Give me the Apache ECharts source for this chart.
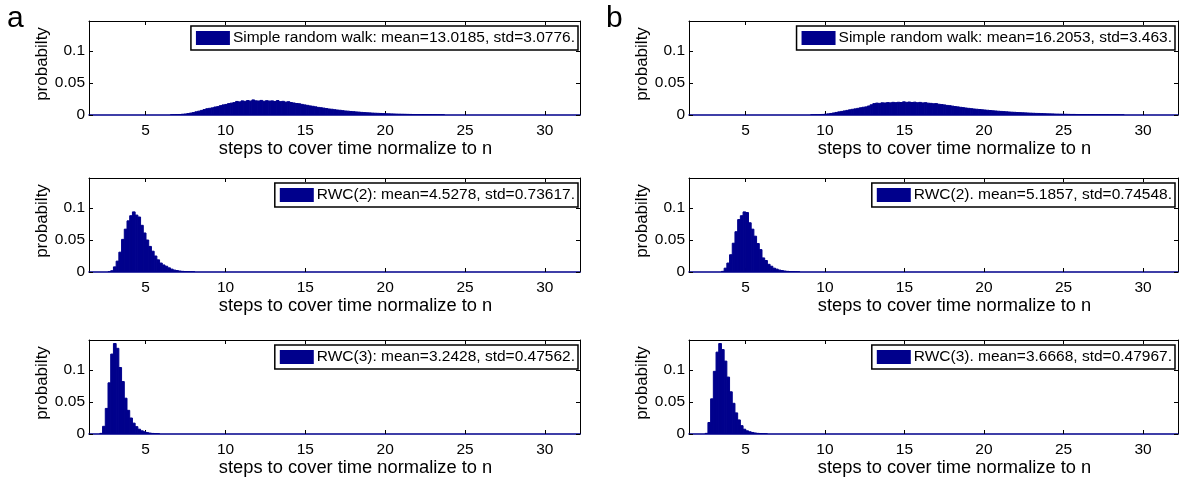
<!DOCTYPE html>
<html>
<head>
<meta charset="utf-8">
<script src="https://cdn.jsdelivr.net/npm/echarts@6/dist/echarts.min.js"></script>
<style>
  html, body { margin: 0; padding: 0; background: #ffffff; }
  #chart { width: 1183px; height: 482px; }
</style>
</head>
<body>
<div id="chart"></div>
<script>
// Histogram bins shared by every panel: left edge of bin 0 and bin width.
const binStart = 1.45;
const binWidth = 0.17;

// Axis ranges and tick values.
const xMin = 1.45;
const xMax = 32.2;
const yMax = 0.147;
const xTicks = [5, 10, 15, 20, 25, 30];
const yTicks = [0, 0.05, 0.1];

const xTitle = 'steps to cover time normalize to n';
const yTitle = 'probabilty';
const panelLetters = ['a', 'b'];

// Legend texts, column a then column b, top to bottom.
const seriesNames = [
  'Simple random walk: mean=13.0185, std=3.0776.',
  'RWC(2): mean=4.5278, std=0.73617.',
  'RWC(3): mean=3.2428, std=0.47562.',
  'Simple random walk: mean=16.2053, std=3.463.',
  'RWC(2). mean=5.1857, std=0.74548.',
  'RWC(3). mean=3.6668, std=0.47967.'
];

// Index of the first listed bin for each histogram.
const firstBins = [30, 7, 4, 45, 12, 6];

// Probabilities per bin, starting at the bin given in firstBins.
const srwA = [
  0.0002, 0.0003, 0.0005, 0.0008, 0.0012, 0.0016, 0.0022, 0.0030, 0.0038, 0.0050,
  0.0060, 0.0072, 0.0085, 0.0098, 0.0105, 0.0112, 0.0125, 0.0131, 0.0146, 0.0158,
  0.0165, 0.0178, 0.0186, 0.0194, 0.0212, 0.0205, 0.0221, 0.0214, 0.0226, 0.0218,
  0.0236, 0.0222, 0.0219, 0.0228, 0.0215, 0.0224, 0.0218, 0.0221, 0.0212, 0.0226,
  0.0209, 0.0214, 0.0202, 0.0208, 0.0195, 0.0188, 0.0180, 0.0176, 0.0166, 0.0158,
  0.0151, 0.0142, 0.0136, 0.0128, 0.0119, 0.0114, 0.0108, 0.0101, 0.0094, 0.0090,
  0.0083, 0.0078, 0.0074, 0.0068, 0.0063, 0.0060, 0.0055, 0.0052, 0.0048, 0.0045,
  0.0041, 0.0038, 0.0035, 0.0033, 0.0030, 0.0028, 0.0026, 0.0024, 0.0022, 0.0020,
  0.0019, 0.0017, 0.0016, 0.0014, 0.0013, 0.0012, 0.0011, 0.0010, 0.0009, 0.0008,
  0.0007, 0.0007, 0.0006, 0.0006, 0.0005, 0.0005, 0.0004, 0.0004, 0.0003, 0.0003,
  0.0002
];
const rwc2A = [
  0.0003, 0.0020, 0.0080, 0.0170, 0.0310, 0.0510, 0.0670, 0.0800, 0.0880, 0.0940,
  0.0890, 0.0860, 0.0730, 0.0610, 0.0500, 0.0400, 0.0325, 0.0250, 0.0190, 0.0140,
  0.0110, 0.0090, 0.0065, 0.0045, 0.0030, 0.0022, 0.0015, 0.0010, 0.0007, 0.0004,
  0.0003, 0.0002
];
const rwc3A = [
  0.0010, 0.0120, 0.0400, 0.0800, 0.1250, 0.1415, 0.1340, 0.1040, 0.0820, 0.0560,
  0.0370, 0.0250, 0.0170, 0.0115, 0.0075, 0.0050, 0.0035, 0.0022, 0.0014, 0.0009,
  0.0005, 0.0003
];
const srwB = [
  0.0002, 0.0003, 0.0004, 0.0006, 0.0009, 0.0013, 0.0018, 0.0024, 0.0032, 0.0040,
  0.0049, 0.0056, 0.0064, 0.0072, 0.0081, 0.0089, 0.0096, 0.0104, 0.0113, 0.0121,
  0.0127, 0.0141, 0.0160, 0.0178, 0.0186, 0.0182, 0.0191, 0.0188, 0.0194, 0.0190,
  0.0198, 0.0193, 0.0199, 0.0195, 0.0206, 0.0198, 0.0203, 0.0196, 0.0201, 0.0192,
  0.0197, 0.0189, 0.0193, 0.0185, 0.0182, 0.0176, 0.0178, 0.0168, 0.0163, 0.0158,
  0.0150, 0.0146, 0.0139, 0.0132, 0.0127, 0.0120, 0.0115, 0.0109, 0.0104, 0.0099,
  0.0094, 0.0090, 0.0086, 0.0082, 0.0078, 0.0074, 0.0070, 0.0066, 0.0063, 0.0059,
  0.0056, 0.0053, 0.0050, 0.0047, 0.0044, 0.0042, 0.0039, 0.0037, 0.0035, 0.0033,
  0.0031, 0.0029, 0.0027, 0.0025, 0.0024, 0.0022, 0.0021, 0.0019, 0.0018, 0.0017,
  0.0015, 0.0014, 0.0013, 0.0012, 0.0011, 0.0010, 0.0009, 0.0009, 0.0008, 0.0007,
  0.0007, 0.0006, 0.0006, 0.0005, 0.0005, 0.0004, 0.0004, 0.0003, 0.0003, 0.0003,
  0.0002, 0.0002, 0.0002, 0.0002, 0.0001, 0.0001
];
const rwc2B = [
  0.0010, 0.0060, 0.0140, 0.0270, 0.0450, 0.0630, 0.0820, 0.0880, 0.0940, 0.0930,
  0.0770, 0.0670, 0.0560, 0.0445, 0.0350, 0.0220, 0.0180, 0.0120, 0.0090, 0.0060,
  0.0045, 0.0030, 0.0022, 0.0015, 0.0010, 0.0007, 0.0005, 0.0003, 0.0002
];
const rwc3B = [
  0.0010, 0.0180, 0.0550, 0.0980, 0.1280, 0.1415, 0.1320, 0.1140, 0.0890, 0.0660,
  0.0480, 0.0330, 0.0220, 0.0130, 0.0075, 0.0050, 0.0035, 0.0024, 0.0016, 0.0010,
  0.0007, 0.0004, 0.0002
];
const histValues = [srwA, rwc2A, rwc3A, srwB, rwc2B, rwc3B];

// Layout of the 2 x 3 grid of axes boxes (pixels).
const colLeft = [89, 689];
const colWidth = [491, 489];
const rowTop = [21, 178, 340];
const boxHeight = 94;
const legendRight = [605, 8];

const barColor = '#00008c';
const fontFamily = '"Liberation Sans", Arial, Helvetica, sans-serif';

const chart = echarts.init(document.getElementById('chart'), null, { renderer: 'canvas' });

const grid = [], xAxis = [], yAxis = [], series = [], legend = [];

for (let col = 0; col < 2; col++) {
  for (let row = 0; row < 3; row++) {
    const i = col * 3 + row;
    grid.push({ left: colLeft[col], top: rowTop[row], width: colWidth[col], height: boxHeight });

    // bottom axis with labels and title
    xAxis.push({
      gridIndex: i, type: 'value', min: xMin, max: xMax, position: 'bottom',
      axisLine: { onZero: false, lineStyle: { color: barColor, width: 1.5 } },
      axisTick: { inside: true, length: 4, customValues: xTicks, lineStyle: { color: '#000', width: 1 } },
      axisLabel: { customValues: xTicks, margin: 8, color: '#000', fontSize: 15.5, fontFamily: fontFamily },
      splitLine: { show: false },
      name: xTitle, nameLocation: 'middle', nameGap: 23,
      nameTextStyle: { color: '#000', fontSize: 18.3, fontFamily: fontFamily, padding: [0, 0, 0, 42] }
    });
    // top edge of the box, ticks only
    xAxis.push({
      gridIndex: i, type: 'value', min: xMin, max: xMax, position: 'top',
      axisLine: { onZero: false, lineStyle: { color: '#000', width: 1 } },
      axisTick: { inside: true, length: 4, customValues: xTicks, lineStyle: { color: '#000', width: 1 } },
      axisLabel: { show: false }, splitLine: { show: false }
    });
    // left axis with labels and title
    yAxis.push({
      gridIndex: i, type: 'value', min: 0, max: yMax, position: 'left',
      axisLine: { onZero: false, lineStyle: { color: '#000', width: 1 } },
      axisTick: { inside: true, length: 4, customValues: yTicks, lineStyle: { color: '#000', width: 1 } },
      axisLabel: { customValues: yTicks, margin: 4, color: '#000', fontSize: 15.5, fontFamily: fontFamily },
      splitLine: { show: false },
      name: yTitle, nameLocation: 'middle', nameGap: 38, nameRotate: 90,
      nameTextStyle: { color: '#000', fontSize: 17, fontFamily: fontFamily, padding: [0, 0, 0, 8] }
    });
    // right edge of the box, ticks only
    yAxis.push({
      gridIndex: i, type: 'value', min: 0, max: yMax, position: 'right',
      axisLine: { onZero: false, lineStyle: { color: '#000', width: 1 } },
      axisTick: { inside: true, length: 4, customValues: yTicks, lineStyle: { color: '#000', width: 1 } },
      axisLabel: { show: false }, splitLine: { show: false }
    });

    const first = firstBins[i];
    const data = histValues[i].map((v, k) => [binStart + (first + k + 0.5) * binWidth, v]);

    series.push({
      type: 'custom', name: seriesNames[i],
      xAxisIndex: 2 * i, yAxisIndex: 2 * i,
      clip: true, z: 1,
      itemStyle: { color: barColor },
      data: data,
      renderItem: function (params, api) {
        const x = api.value(0);
        const y = api.value(1);
        const p0 = api.coord([x - binWidth / 2, y]);
        const p1 = api.coord([x + binWidth / 2, 0]);
        return {
          type: 'rect',
          shape: { x: p0[0], y: p0[1], width: p1[0] - p0[0], height: p1[1] - p0[1] },
          style: { fill: barColor, stroke: barColor, lineWidth: 1 }
        };
      }
    });

    legend.push({
      data: [seriesNames[i]],
      right: legendRight[col], top: rowTop[row] + 5,
      orient: 'horizontal',
      icon: 'rect', itemWidth: 34, itemHeight: 14,
      padding: [4, 3, 4, 5],
      borderColor: '#000', borderWidth: 1.5, borderRadius: 0,
      backgroundColor: '#fff',
      selectedMode: false,
      textStyle: { color: '#000', fontSize: 15.5, fontFamily: fontFamily, lineHeight: 14, padding: [0, 0, 0, -2] }
    });
  }
}

const graphic = panelLetters.map((letter, col) => ({
  type: 'text',
  left: col === 0 ? 7 : 606,
  top: 4,
  style: { text: letter, fontSize: 30, fontFamily: fontFamily, fill: '#000' }
}));

chart.setOption({
  animation: false,
  backgroundColor: '#ffffff',
  grid: grid,
  xAxis: xAxis,
  yAxis: yAxis,
  legend: legend,
  series: series,
  graphic: graphic
});
</script>
</body>
</html>
